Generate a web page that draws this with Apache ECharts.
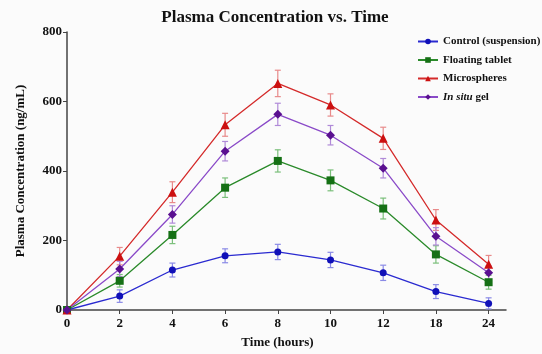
<!DOCTYPE html>
<html><head><meta charset="utf-8">
<script src="https://cdn.jsdelivr.net/npm/echarts@6/dist/echarts.min.js"></script>
<style>html,body{margin:0;padding:0;background:#fbfbfb;}#c{width:542px;height:354px;}</style>
</head><body><div id="c"></div>
<script>
const timeLabels = ['0','2','4','6','8','10','12','18','24'];
const seriesNames = ['Control (suspension)','Floating tablet','Microspheres','In situ gel'];
const controlVals = [0, 40, 115, 156, 167, 144, 107, 53, 19];
const controlErr  = [0, 18, 20, 20, 22, 22, 22, 20, 16];
const floatVals   = [0, 84, 216, 352, 429, 373, 292, 160, 80];
const floatErr    = [0, 18, 25, 28, 32, 30, 30, 25, 20];
const microVals   = [0, 155, 339, 533, 652, 590, 494, 259, 132];
const microErr    = [0, 25, 30, 33, 38, 32, 32, 30, 25];
const gelVals     = [0, 118, 275, 457, 563, 503, 408, 212, 107];
const gelErr      = [0, 22, 25, 28, 32, 28, 28, 25, 20];

const lineColors = ['#2a2ad0', '#2a8a2a', '#d42a2a', '#8a4ac8'];
const markColors = ['#1010b8', '#157015', '#cc1010', '#5a1090'];
const errColors  = ['#8a8ae6', '#7abf7a', '#e88a8a', '#b08ad8'];
const symbols = ['circle', 'rect', 'triangle', 'diamond'];
const symSizes = [7, 8, 9, 9];
const allVals = [controlVals, floatVals, microVals, gelVals];
const allErr = [controlErr, floatErr, microErr, gelErr];

const serif = '"Liberation Serif", "Times New Roman", serif';

const series = [];
allVals.forEach((vals, i) => {
  series.push({
    name: seriesNames[i] + ' err',
    type: 'custom',
    silent: true,
    z: 1,
    data: vals.map((v, k) => [k, v - allErr[i][k], v + allErr[i][k]]),
    renderItem: function (params, api) {
      const x = api.value(0);
      const lo = api.coord([x, api.value(1)]);
      const hi = api.coord([x, api.value(2)]);
      const w = 3;
      const style = { stroke: errColors[i], lineWidth: 1.2 };
      if (api.value(2) - api.value(1) <= 0) return null;
      return {
        type: 'group',
        children: [
          { type: 'line', shape: { x1: lo[0], y1: lo[1], x2: hi[0], y2: hi[1] }, style },
          { type: 'line', shape: { x1: lo[0] - w, y1: lo[1], x2: lo[0] + w, y2: lo[1] }, style },
          { type: 'line', shape: { x1: hi[0] - w, y1: hi[1], x2: hi[0] + w, y2: hi[1] }, style }
        ]
      };
    }
  });
  series.push({
    name: seriesNames[i],
    type: 'line',
    z: 3,
    data: vals.map((v, k) => [k, v]),
    symbol: symbols[i],
    symbolSize: symSizes[i],
    showAllSymbol: true,
    lineStyle: { color: lineColors[i], width: 1.3 },
    itemStyle: { color: markColors[i] },
    emphasis: { disabled: true }
  });
});

const chart = echarts.init(document.getElementById('c'), null, { renderer: 'canvas' });
chart.setOption({
  backgroundColor: '#fbfbfb',
  animation: false,
  title: {
    text: 'Plasma Concentration vs. Time',
    left: 270, top: 4, textAlign: 'center',
    textStyle: { fontFamily: serif, fontWeight: 'bold', fontSize: 17, color: '#111' }
  },
  legend: {
    data: seriesNames,
    orient: 'vertical',
    left: 412, top: 31,
    itemWidth: 20, itemHeight: 7, itemGap: 7.5,
    formatter: function (n) { return n === 'In situ gel' ? '{i|In situ} gel' : n; },
    textStyle: {
      fontFamily: serif, fontWeight: 'bold', fontSize: 11, color: '#111',
      rich: { i: { fontFamily: serif, fontWeight: 'bold', fontStyle: 'italic', fontSize: 11, color: '#111' } }
    }
  },
  grid: { left: 67, right: 36, top: 32, bottom: 44 },
  xAxis: {
    type: 'value', min: 0, max: 8.33, interval: 1,
    name: 'Time (hours)', nameLocation: 'middle', nameGap: 26,
    nameTextStyle: { fontFamily: serif, fontWeight: 'bold', fontSize: 13, color: '#111', padding: [0, 18, 0, 0] },
    splitLine: { show: false },
    axisLine: { show: true, lineStyle: { color: '#444', width: 1.5 } },
    axisTick: { show: true, length: 4, lineStyle: { color: '#444' }, customValues: [0,1,2,3,4,5,6,7,8] },
    axisLabel: {
      customValues: [0,1,2,3,4,5,6,7,8],
      formatter: v => timeLabels[Math.round(v)] ?? '',
      fontFamily: serif, fontWeight: 'bold', fontSize: 13, color: '#111', margin: 7
    }
  },
  yAxis: {
    type: 'value', min: 0, max: 800, interval: 200,
    name: 'Plasma Concentration (ng/mL)', nameLocation: 'middle', nameGap: 40, nameRotate: 90,
    nameTextStyle: { fontFamily: serif, fontWeight: 'bold', fontSize: 13, color: '#111' },
    splitLine: { show: false },
    axisLine: { show: true, lineStyle: { color: '#444', width: 1.5 } },
    axisTick: { show: true, length: 4, lineStyle: { color: '#444' } },
    axisLabel: { fontFamily: serif, fontWeight: 'bold', fontSize: 13, color: '#111', margin: 5 }
  },
  series: series
});
</script>
</body></html>
